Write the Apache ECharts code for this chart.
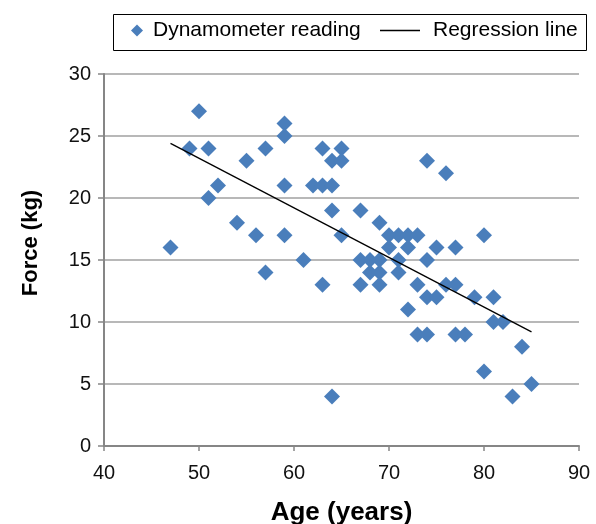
<!DOCTYPE html>
<html>
<head>
<meta charset="utf-8">
<script src="https://cdn.jsdelivr.net/npm/echarts@6/dist/echarts.min.js"></script>
<style>
  html, body { margin: 0; padding: 0; background: #fff; }
  #chart { width: 596px; height: 524px; }
</style>
</head>
<body>
<div id="chart"></div>
<script>
// Dynamometer readings: [age (years), force (kg)]
const ages = [47, 49, 50, 51, 51, 52, 54, 55, 56, 57, 57, 59, 59, 59, 59, 61, 62, 63, 63, 63,
  64, 64, 64, 64, 65, 65, 65, 67, 67, 67, 68, 68, 69, 69, 69, 69, 70, 70, 71, 71,
  71, 72, 72, 72, 73, 73, 73, 74, 74, 74, 74, 75, 75, 76, 76, 77, 77, 77, 78, 79,
  80, 80, 81, 81, 82, 83, 84, 85];
const forces = [16, 24, 27, 24, 20, 21, 18, 23, 17, 24, 14, 26, 25, 21, 17, 15, 21, 24, 21, 13,
  23, 21, 19, 4, 24, 23, 17, 19, 15, 13, 15, 14, 18, 15, 14, 13, 17, 16, 17, 15,
  14, 17, 16, 11, 17, 13, 9, 23, 15, 12, 9, 16, 12, 22, 13, 16, 13, 9, 9, 12,
  17, 6, 12, 10, 10, 4, 8, 5];
// Regression line end points
const regAges = [47, 85];
const regForces = [24.4, 9.2];
const xTicks = { min: 40, max: 90, interval: 10 };
const yTicks = { min: 0, max: 30, interval: 5 };

const scatterData = ages.map((a, i) => [a, forces[i]]);
const lineData = regAges.map((a, i) => [a, regForces[i]]);

const chart = echarts.init(document.getElementById('chart'), null, { renderer: 'canvas' });
const font = 'Liberation Sans, Arial, Helvetica, sans-serif';
chart.setOption({
  animation: false,
  backgroundColor: '#ffffff',
  textStyle: { fontFamily: font },
  graphic: [{
    type: 'rect',
    shape: { x: 113.5, y: 14.5, width: 473, height: 36 },
    style: { fill: 'none', stroke: '#000', lineWidth: 1 },
    z: 1
  }],
  legend: [{
    data: [{ name: 'Dynamometer reading', icon: 'diamond' }],
    left: 131, top: 20,
    itemWidth: 12, itemHeight: 12,
    padding: 0,
    textStyle: { fontSize: 21, color: '#000', fontFamily: font, padding: [0, 0, 0, 5] }
  }, {
    data: [{ name: 'Regression line', icon: 'rect', itemStyle: { color: '#000' } }],
    left: 380, top: 20,
    itemWidth: 40, itemHeight: 1.3,
    padding: 0,
    textStyle: { fontSize: 21, color: '#000', fontFamily: font, padding: [0, 0, 0, 8] }
  }],
  grid: { left: 104, right: 17, top: 74, bottom: 78, containLabel: false, outerBoundsMode: 'none' },
  xAxis: {
    type: 'value',
    min: xTicks.min, max: xTicks.max, interval: xTicks.interval,
    name: 'Age (years)',
    nameLocation: 'middle',
    nameGap: 54,
    nameTextStyle: { fontSize: 26, fontWeight: 'bold', color: '#000', fontFamily: font },
    axisLine: { show: true, lineStyle: { color: '#868686', width: 2 } },
    axisTick: { show: true, length: 5, inside: false, lineStyle: { color: '#868686', width: 1.5 } },
    axisLabel: { fontSize: 20, color: '#111', margin: 17, fontFamily: font },
    splitLine: { show: false }
  },
  yAxis: {
    type: 'value',
    min: yTicks.min, max: yTicks.max, interval: yTicks.interval,
    name: 'Force (kg)',
    nameLocation: 'middle',
    nameGap: 62,
    nameRotate: 90,
    nameTextStyle: { fontSize: 22, fontWeight: 'bold', color: '#000', fontFamily: font, padding: [0, 0, 0, 34] },
    axisLine: { show: true, lineStyle: { color: '#868686', width: 2 } },
    axisTick: { show: true, length: 6, lineStyle: { color: '#868686', width: 1.5 } },
    axisLabel: { fontSize: 20, color: '#111', margin: 13, fontFamily: font },
    splitLine: { show: true, lineStyle: { color: '#a0a0a0', width: 1.5 } }
  },
  series: [{
    name: 'Dynamometer reading',
    type: 'scatter',
    symbol: 'diamond',
    symbolSize: 16,
    itemStyle: { color: '#4a7ebb', opacity: 1 },
    data: scatterData,
    z: 2
  }, {
    name: 'Regression line',
    type: 'line',
    symbol: 'none',
    showSymbol: false,
    lineStyle: { color: '#000', width: 1.3 },
    itemStyle: { color: '#000' },
    data: lineData,
    z: 3
  }]
});
</script>
</body>
</html>
